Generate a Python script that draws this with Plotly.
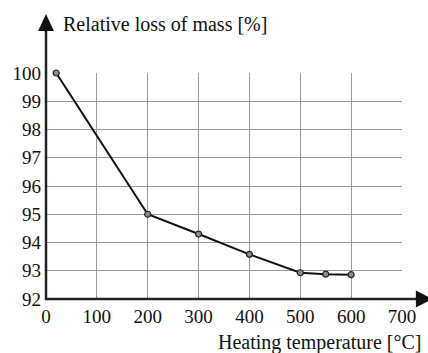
import plotly.graph_objects as go

# Data
temperature = [20, 200, 300, 400, 500, 550, 600]
mass_loss = [100, 95, 94.3, 93.58, 92.93, 92.88, 92.86]
x_ticks = [0, 100, 200, 300, 400, 500, 600, 700]
y_ticks = [92, 93, 94, 95, 96, 97, 98, 99, 100]
x_title = "Heating temperature [°C]"
y_title = "Relative loss of mass [%]"

W, H = 428, 353
L, R, T, B = 46, 22, 73, 54
pw = W - L - R
ph = H - T - B

def px(x):
    return (x - L) / pw

def py(y):
    return (H - B - y) / ph

FONT = "Times New Roman, Liberation Serif, Tinos, serif"
AX = "#222222"

fig = go.Figure()
fig.add_trace(go.Scatter(
    x=temperature, y=mass_loss, mode="lines+markers",
    line=dict(color="#111111", width=2),
    marker=dict(size=6, color="#8a8a8a", line=dict(color="#222222", width=1.2)),
    cliponaxis=False, showlegend=False,
))

shapes = [
    dict(type="line", xref="paper", yref="paper", x0=0, x1=0, y0=py(H - B + 1), y1=py(30),
         line=dict(color=AX, width=2.5)),
    dict(type="path", xref="paper", yref="paper",
         path=f"M {px(L-8)},{py(31)} L {px(L+8)},{py(31)} L {px(L)},{py(14)} Z",
         fillcolor="#111111", line=dict(width=0)),
    dict(type="line", xref="paper", yref="paper", x0=px(L - 1), x1=px(421), y0=0, y1=0,
         line=dict(color=AX, width=2.5)),
    dict(type="path", xref="paper", yref="paper",
         path=f"M {px(420)},{py(H-B-8.5)} L {px(420)},{py(H-B+8.5)} L {px(437)},{py(H-B)} Z",
         fillcolor="#111111", line=dict(width=0)),
]

annotations = [
    dict(text=y_title, xref="paper", yref="paper", x=px(61), y=py(24),
         xanchor="left", yanchor="middle", showarrow=False,
         font=dict(family=FONT, size=20, color="#111111")),
    dict(text=x_title, xref="paper", yref="paper", x=px(427), y=py(342),
         xanchor="right", yanchor="middle", showarrow=False,
         font=dict(family=FONT, size=20, color="#111111")),
]

fig.update_layout(
    width=W, height=H,
    margin=dict(l=L, r=R, t=T, b=B, pad=0),
    paper_bgcolor="white", plot_bgcolor="white",
    font=dict(family=FONT, size=18, color="#111111"),
    shapes=shapes, annotations=annotations,
    xaxis=dict(range=[0, 700], tickvals=x_ticks, ticktext=[str(v) for v in x_ticks],
               showgrid=True, gridcolor="#9a9a9a", gridwidth=1, zeroline=False,
               showline=False, ticks="", ticklabelstandoff=4, fixedrange=True,
               tickfont=dict(family=FONT, size=19)),
    yaxis=dict(range=[92, 100], tickvals=y_ticks, ticktext=[str(v) for v in y_ticks],
               showgrid=True, gridcolor="#9a9a9a", gridwidth=1, zeroline=False,
               showline=False, ticks="", ticklabelstandoff=4, fixedrange=True,
               tickfont=dict(family=FONT, size=19)),
)

fig.write_html("out.html")
